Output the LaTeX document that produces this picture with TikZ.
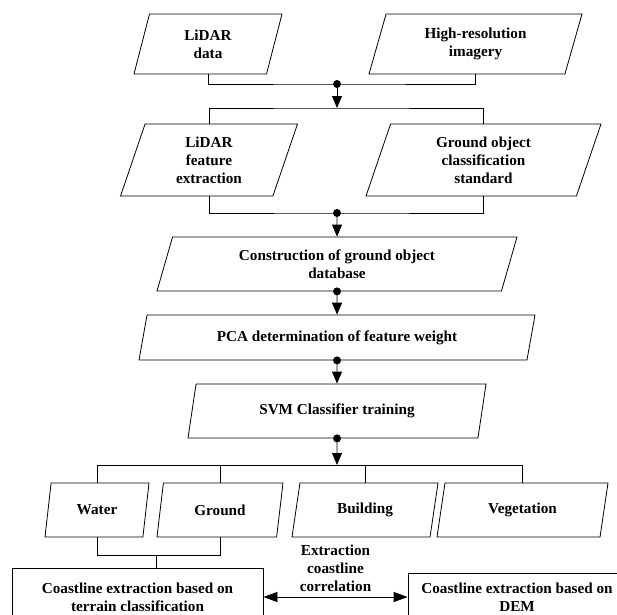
\documentclass[tikz,border=0pt]{standalone}
\usepackage{fontspec}
\setmainfont{Liberation Serif}
\usetikzlibrary{shapes.geometric,arrows.meta}

\begin{document}
\begin{tikzpicture}[x=1pt,y=-1pt,line width=0.8pt,
  font=\fontsize{15.2}{18.2}\selectfont\bfseries,
  data/.style={trapezium,trapezium left angle=63.4,trapezium right angle=116.6,
    trapezium stretches body,draw,align=center,inner sep=1pt},
  proc/.style={rectangle,draw,align=center,inner sep=1pt},
  arr/.style={-{Triangle[length=12pt,width=10pt]}},
  dblarr/.style={{Triangle[length=14pt,width=10pt]}-{Triangle[length=14pt,width=10pt]}}]

\useasboundingbox (0,0) rectangle (617,614);
\clip (0,0) rectangle (617,614);

\node[data,minimum width=148,minimum height=60](lidar) at (208,44){LiDAR\\data};
\node[data,minimum width=213,minimum height=60](hires) at (475.5,44){High-resolution\\imagery};
\node[data,minimum width=177,minimum height=72](lfeat) at (209,160){LiDAR\\feature\\extraction};
\node[data,minimum width=235,minimum height=72](gstd) at (483.5,160){Ground object\\classification\\standard};
\node[data,minimum width=360,minimum height=54](cons) at (337,264){Construction of ground object\\database};
\node[data,minimum width=396,minimum height=45](pca) at (337,337.5){PCA determination of feature weight};
\node[data,minimum width=298,minimum height=54](svm) at (337,411){SVM Classifier training};
\node[data,minimum width=104,minimum height=54](water) at (97,510){Water};
\node[data,minimum width=126,minimum height=54](ground) at (220,510){Ground};
\node[data,minimum width=146,minimum height=54](build) at (365,510){Building};
\node[data,minimum width=171,minimum height=54](veg) at (522.5,510){Vegetation};
\node[proc,minimum width=251,minimum height=58](terrain) at (137.5,597){Coastline extraction based on\\terrain classification};
\node[proc,minimum width=218,minimum height=48](dem) at (517,597){Coastline extraction based on\\DEM};
\node[align=center,inner sep=0pt](corr) at (335.5,568){Extraction\\coastline\\correlation};

\coordinate(dot1) at (337,84);
\coordinate(split1) at (337,108);
\coordinate(dot2) at (337,213);
\coordinate(split2) at (337,465);
\coordinate(join) at (156,555);

% merge and split lines
\draw (lidar.south) |- (dot1) -| (hires.south);
\draw (lfeat.north) |- (split1) -| (gstd.north);
\draw (lfeat.south) |- (dot2) -| (gstd.south);
\draw (water.north) |- (split2) -| (veg.north);
\draw (ground.north) -- (ground.north |- split2);
\draw (build.north) -- (build.north |- split2);
\draw (water.south) |- (join) -| (ground.south);
\draw (join) -- (join |- terrain.north);

% arrows
\draw[arr] (dot1) -- (split1);
\draw[arr] (dot2) -- (cons.north);
\draw[arr] (cons.south) -- (pca.north);
\draw[arr] (pca.south) -- (svm.north);
\draw[arr] (svm.south) -- (split2);
\draw[dblarr] (terrain.east) -- (dem.west);

% junction dots
\foreach \d in {dot1,dot2,cons.south,pca.south,svm.south}
  \fill (\d) circle (4pt);

\end{tikzpicture}
\end{document}
